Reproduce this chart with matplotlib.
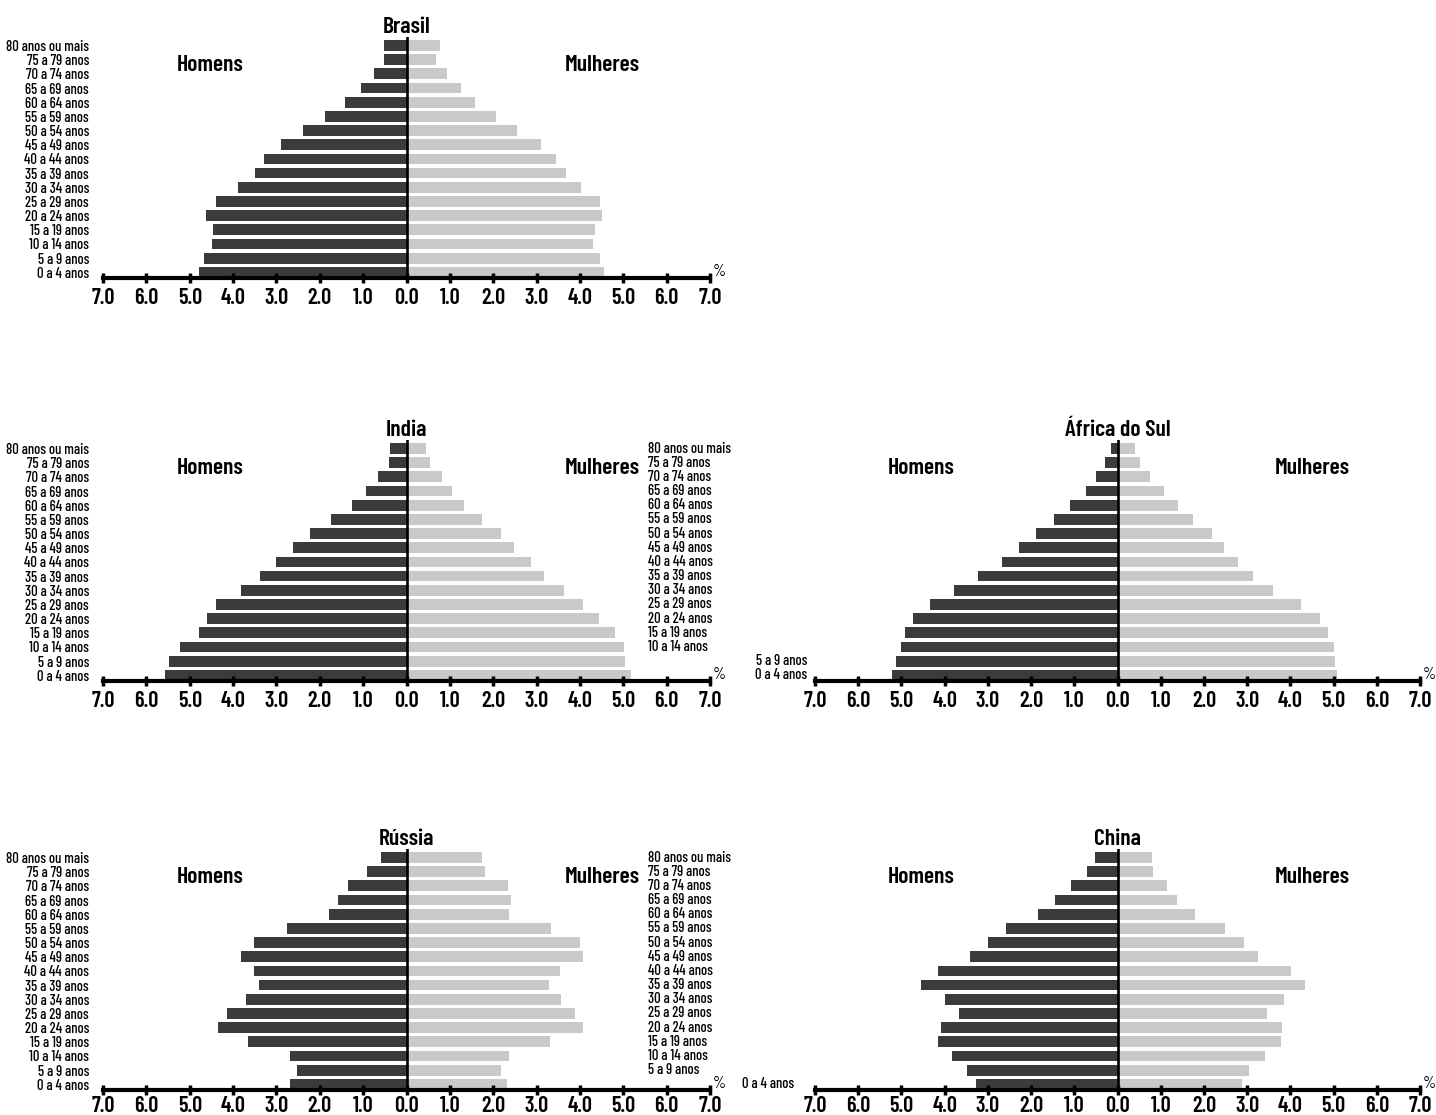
import matplotlib
matplotlib.use("Agg")
import matplotlib.pyplot as plt
import matplotlib.transforms as mtransforms

# age groups, youngest first (bottom of the pyramid)
ages = ["0 a 4 anos", "5 a 9 anos", "10 a 14 anos", "15 a 19 anos", "20 a 24 anos",
        "25 a 29 anos", "30 a 34 anos", "35 a 39 anos", "40 a 44 anos", "45 a 49 anos",
        "50 a 54 anos", "55 a 59 anos", "60 a 64 anos", "65 a 69 anos", "70 a 74 anos",
        "75 a 79 anos", "80 anos ou mais"]

# percentages, youngest first
brasil_men = [4.78, 4.66, 4.48, 4.47, 4.62, 4.39, 3.88, 3.50, 3.28, 2.89, 2.38, 1.88, 1.41, 1.05, 0.76, 0.53, 0.53]
brasil_women = [4.55, 4.47, 4.31, 4.34, 4.51, 4.46, 4.02, 3.67, 3.45, 3.11, 2.56, 2.06, 1.57, 1.26, 0.94, 0.69, 0.78]

india_men = [5.58, 5.47, 5.22, 4.78, 4.61, 4.39, 3.82, 3.39, 3.00, 2.61, 2.23, 1.73, 1.26, 0.94, 0.66, 0.41, 0.38]
india_women = [5.17, 5.04, 5.02, 4.81, 4.44, 4.06, 3.64, 3.17, 2.88, 2.49, 2.19, 1.75, 1.33, 1.06, 0.82, 0.55, 0.45]

africa_men = [5.21, 5.13, 5.02, 4.92, 4.73, 4.33, 3.78, 3.22, 2.68, 2.29, 1.88, 1.47, 1.09, 0.73, 0.49, 0.28, 0.16]
africa_women = [5.08, 5.04, 5.01, 4.88, 4.69, 4.24, 3.59, 3.14, 2.79, 2.46, 2.18, 1.75, 1.41, 1.07, 0.76, 0.53, 0.40]

russia_men = [2.69, 2.52, 2.68, 3.65, 4.34, 4.13, 3.71, 3.41, 3.52, 3.82, 3.51, 2.75, 1.78, 1.57, 1.36, 0.91, 0.59]
russia_women = [2.32, 2.18, 2.36, 3.30, 4.08, 3.88, 3.56, 3.29, 3.54, 4.08, 4.01, 3.34, 2.37, 2.42, 2.35, 1.81, 1.75]

china_men = [3.28, 3.48, 3.82, 4.16, 4.09, 3.67, 4.00, 4.54, 4.16, 3.41, 3.00, 2.59, 1.83, 1.44, 1.08, 0.70, 0.53]
china_women = [2.88, 3.05, 3.42, 3.79, 3.80, 3.46, 3.85, 4.34, 4.02, 3.26, 2.93, 2.49, 1.79, 1.38, 1.15, 0.81, 0.79]

ticks = [-7, -6, -5, -4, -3, -2, -1, 0, 1, 2, 3, 4, 5, 6, 7]

MALE = "#3a3b3b"
FEMALE = "#c8c9ca"
plt.rcParams["font.family"] = ["Barlow Condensed", "DejaVu Sans"]
plt.rcParams["font.stretch"] = "condensed"

W, H = 1436, 1115
fig = plt.figure(figsize=(W / 100, H / 100), dpi=100)


def make_ax(x0, x1, axis_y):
    # place axes in pixel terms: x0..x1 span -7..7, axis_y is the bottom line
    h = 241
    return fig.add_axes([x0 / W, 1 - axis_y / H, (x1 - x0) / W, h / H])


def pyramid(ax, title, men, women, left_labels=True, tick_pad=4):
    y = list(range(len(ages)))
    ax.barh(y, [-m for m in men], height=0.76, color=MALE)
    ax.barh(y, women, height=0.76, color=FEMALE)
    ax.axvline(0, color="black", lw=1.9)
    ax.set_xlim(-7, 7)
    ax.set_ylim(-0.4, 16.6)
    for s in ["top", "right", "left"]:
        ax.spines[s].set_visible(False)
    ax.spines["bottom"].set_linewidth(3)
    ax.set_xticks(ticks)
    ax.set_xticklabels([f"{abs(t):.1f}" for t in ticks], fontsize=16, fontweight="semibold")
    ax.tick_params(axis="x", direction="inout", length=7, width=2.5, pad=tick_pad)
    if left_labels:
        ax.set_yticks(y)
        ax.set_yticklabels(ages, fontsize=10.5, fontweight="medium")
        ax.tick_params(axis="y", length=0, pad=10)
    else:
        ax.set_yticks([])
    ax.set_title(title, fontsize=17, fontweight="semibold", pad=3)
    ax.text(0.176, 0.885, "Homens", transform=ax.transAxes, ha="center", va="center",
            fontsize=17, fontweight="semibold")
    ax.text(0.822, 0.885, "Mulheres", transform=ax.transAxes, ha="center", va="center",
            fontsize=17, fontweight="semibold")
    ax.text(1.004, 0.025, "%", transform=ax.transAxes, ha="left", va="center", fontsize=12)


def side_labels(ax, n_left, right_x):
    # labels of the right-hand panels: most of them in a column at the far left,
    # the youngest groups next to the axis
    tr = mtransforms.blended_transform_factory(ax.transAxes, ax.transData)
    for i, lab in enumerate(ages):
        if i >= len(ages) - n_left:
            ax.text(-0.276, i, lab, transform=tr, ha="left", va="center",
                    fontsize=10.5, fontweight="medium")
        else:
            ax.text(right_x, i, lab, transform=tr, ha="right", va="center",
                    fontsize=10.5, fontweight="medium")


ax_br = make_ax(103, 710, 278)
pyramid(ax_br, "Brasil", brasil_men, brasil_women)

ax_in = make_ax(103, 710, 681)
pyramid(ax_in, "India", india_men, india_women)

ax_af = make_ax(815, 1420, 681)
pyramid(ax_af, "África do Sul", africa_men, africa_women, left_labels=False)
side_labels(ax_af, 15, -0.013)

# bottom row sits right at the lower edge, so its labels go a little closer
ax_ru = make_ax(103, 710, 1090)
pyramid(ax_ru, "Rússia", russia_men, russia_women, tick_pad=1)

ax_cn = make_ax(815, 1420, 1090)
pyramid(ax_cn, "China", china_men, china_women, left_labels=False, tick_pad=1)
side_labels(ax_cn, 16, -0.035)

fig.savefig("out.png", dpi=100, facecolor="white")
